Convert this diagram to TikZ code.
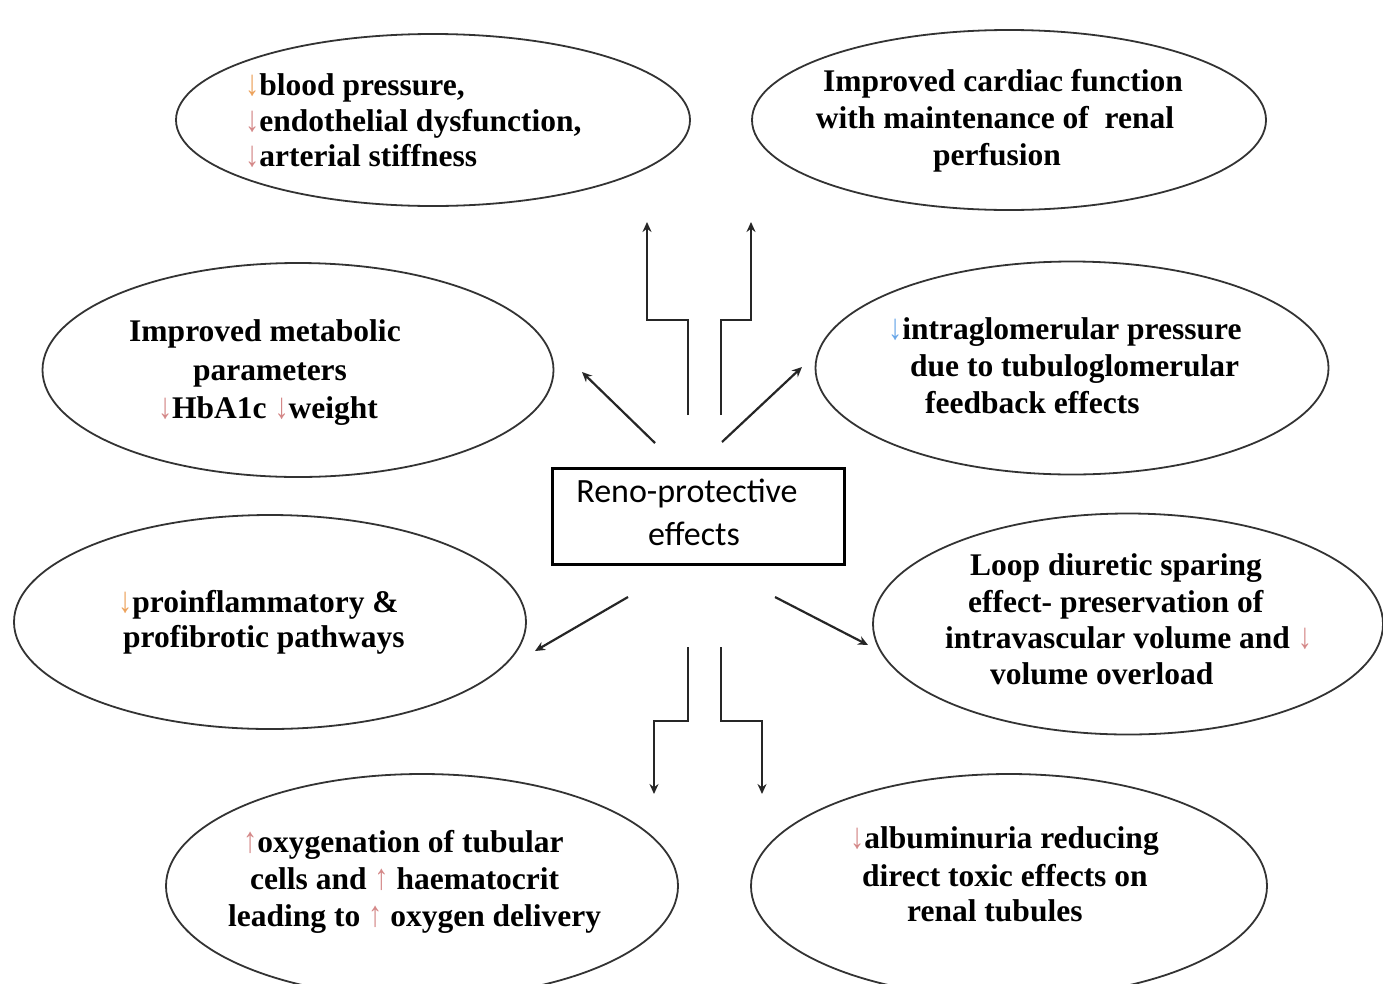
\documentclass[tikz,border=0pt]{standalone}
\usepackage{fontspec}
\usetikzlibrary{shapes.geometric,arrows.meta}
\setmainfont{Liberation Serif}
\newfontfamily\boxfont{Carlito}
\definecolor{salmon}{RGB}{212,136,136}
\definecolor{amber}{RGB}{236,162,92}
\definecolor{skyarrow}{RGB}{104,166,232}
% tall, slim trend arrows
\newcommand{\dn}[1][salmon]{{\mdseries\color{#1}\smash{\scalebox{0.9}[1.15]{↓}}}}
\newcommand{\up}[1][salmon]{{\mdseries\color{#1}\smash{\scalebox{0.9}[1.15]{↑}}}}
\begin{document}
\begin{tikzpicture}[x=1pt,y=-1pt,
  oval/.style={ellipse, draw=black!80, line width=1.8pt, inner sep=0pt},
  txt/.style={font=\fontsize{31.5}{36}\selectfont\bfseries, inner sep=0pt, anchor=base},
  ltxt/.style={txt, anchor=base west},
  link/.style={line width=2.2pt, draw=black!85, -{Stealth[length=10pt,width=9pt]}},
]
\useasboundingbox (0,0) rectangle (1383,983);

% outcome ellipses
\node[oval, minimum width=514pt, minimum height=172pt] (bp)    at (433,120) {};
\node[oval, minimum width=514pt, minimum height=180pt] (card)  at (1009,120) {};
\node[oval, minimum width=511pt, minimum height=214pt] (meta)  at (298,370) {};
\node[oval, minimum width=513pt, minimum height=213pt] (glom)  at (1072,368) {};
\node[oval, minimum width=512pt, minimum height=214pt] (infl)  at (270,622) {};
\node[oval, minimum width=510pt, minimum height=221pt] (loop)  at (1128,624) {};
\node[oval, minimum width=512pt, minimum height=224pt] (oxy)   at (422,886) {};
\node[oval, minimum width=516pt, minimum height=224pt] (alb)   at (1009,886) {};

% central box
\node[draw=black, line width=3pt, minimum width=292pt, minimum height=96pt,
      inner sep=0pt] (reno) at (698,516) {};
\node[font=\boxfont\fontsize{34}{40}\selectfont, anchor=base, inner sep=0pt] (reno1) at (687,502) {Reno-protective};
\node[font=\boxfont\fontsize{34}{40}\selectfont, anchor=base, inner sep=0pt] (reno2) at (694,545) {effects};

% texts
\node[ltxt] (bp1) at (245,95)  {\dn[amber]blood pressure,};
\node[ltxt] (bp2) at (245,131) {\dn endothelial dysfunction,};
\node[ltxt] (bp3) at (245,166) {\dn arterial stiffness};

\node[txt] (card1) at (1003,91)  {Improved cardiac function};
\node[txt] (card2) at (995,128)  {with maintenance of\ \ renal};
\node[txt] (card3) at (997,165)  {perfusion};

\node[txt] (meta1) at (265,341) {Improved metabolic};
\node[txt] (meta2) at (270,380) {parameters};
\node[txt] (meta3) at (268,418) {\dn HbA1c \dn weight};

\node[ltxt] (glom1) at (888,339) {\dn[skyarrow]intraglomerular pressure};
\node[ltxt] (glom2) at (910,376) {due to tubuloglomerular};
\node[ltxt] (glom3) at (925,413) {feedback effects};

\node[ltxt] (infl1) at (118,612) {\dn[amber]proinflammatory \&};
\node[ltxt] (infl2) at (123,647) {profibrotic pathways};

\node[ltxt] (loop1) at (970,575) {Loop diuretic sparing};
\node[ltxt] (loop2) at (968,612) {effect- preservation of};
\node[ltxt] (loop3) at (945,648) {intravascular volume and \dn};
\node[ltxt] (loop4) at (990,684) {volume overload};

\node[ltxt] (oxy1) at (243,852) {\up oxygenation of tubular};
\node[ltxt] (oxy2) at (250,889) {cells and \up\ haematocrit};
\node[ltxt] (oxy3) at (228,926) {leading to \up\ oxygen delivery};

\node[ltxt] (alb1) at (850,848) {\dn albuminuria reducing};
\node[ltxt] (alb2) at (862,886) {direct toxic effects on};
\node[ltxt] (alb3) at (907,921) {renal tubules};

% connector ends
\coordinate (sUL) at (688,415); \coordinate (eUL) at (647,222);
\coordinate (sUR) at (721,415); \coordinate (eUR) at (751,222);
\coordinate (sML) at (655,443); \coordinate (eML) at (582,372);
\coordinate (sMR) at (722,442); \coordinate (eMR) at (802,367);
\coordinate (sLL) at (628,597); \coordinate (eLL) at (535,651);
\coordinate (sLR) at (775,597); \coordinate (eLR) at (868,645);
\coordinate (sDL) at (688,647); \coordinate (eDL) at (654,794);
\coordinate (sDR) at (721,647); \coordinate (eDR) at (762,794);

% connectors
\draw[link] (sUL) |- (647,320) -- (eUL);
\draw[link] (sUR) |- (751,320) -- (eUR);
\draw[link] (sML) -- (eML);
\draw[link] (sMR) -- (eMR);
\draw[link] (sLL) -- (eLL);
\draw[link] (sLR) -- (eLR);
\draw[link] (sDL) |- (654,721) -- (eDL);
\draw[link] (sDR) |- (762,721) -- (eDR);
\end{tikzpicture}
\end{document}
